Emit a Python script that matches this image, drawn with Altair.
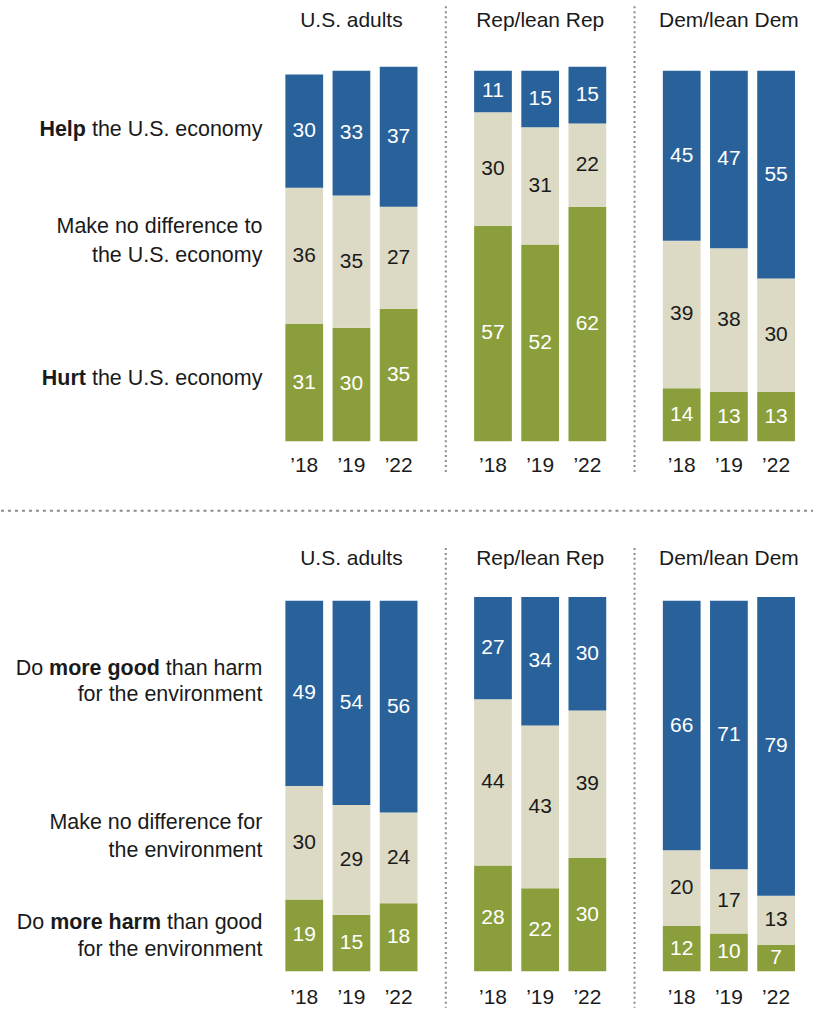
import altair as alt
import pandas as pd

# ---------------- data ----------------
YEARS = ["\u201918", "\u201919", "\u201922"]
GROUPS = ["U.S. adults", "Rep/lean Rep", "Dem/lean Dem"]
GROUP_KEYS = ["US", "REP", "DEM"]

# economy: order US'18,'19,'22, Rep'18,'19,'22, Dem'18,'19,'22
ECON_HELP = [30, 33, 37, 11, 15, 15, 45, 47, 55]
ECON_NONE = [36, 35, 27, 30, 31, 22, 39, 38, 30]
ECON_HURT = [31, 30, 35, 57, 52, 62, 14, 13, 13]

# environment
ENV_GOOD = [49, 54, 56, 27, 34, 30, 66, 71, 79]
ENV_NONE = [30, 29, 24, 44, 43, 39, 20, 17, 13]
ENV_HARM = [19, 15, 18, 28, 22, 30, 12, 10, 7]

TOP_LABEL_LINES = [
    [("Help", True), ("the U.S. economy", False)],
    [("Make no difference to", False)],
    [("the U.S. economy", False)],
    [("Hurt", True), ("the U.S. economy", False)],
]
BOTTOM_LABEL_LINES = [
    [("Do", False), ("more good", True), ("than harm", False)],
    [("for the environment", False)],
    [("Make no difference for", False)],
    [("the environment", False)],
    [("Do", False), ("more harm", True), ("than good", False)],
    [("for the environment", False)],
]

# ---------------- layout / style ----------------
W = 814
K = 3.79                       # px per percentage point
H1, H2 = 512, 497
TOP_BASE, BOT_BASE = 441, 972.5 - H1   # bar baselines (local px)
STEP = 47.3
X0 = 304 - STEP / 2
FONT = "Liberation Sans"
FS = 21
LFS = 21.5
BLUE, BEIGE, GREEN = "#29629b", "#dcdac4", "#8a9f3b"
TXT = "#1a1a1a"
DOT = "#8a8a8a"
LABEL_RIGHT = 262
TOP_LABEL_BASELINES = [135, 232.7, 261, 385]
BOTTOM_LABEL_BASELINES = [675 - H1, 701.7 - H1, 830 - H1, 858 - H1, 930 - H1, 956.7 - H1]

AR = {' ': 278, '.': 278, 'D': 722, 'H': 722, 'M': 833, 'S': 667, 'U': 722,
      'a': 556, 'c': 500, 'd': 556, 'e': 556, 'f': 278, 'g': 556, 'h': 556,
      'i': 222, 'k': 500, 'l': 222, 'm': 833, 'n': 556, 'o': 556, 'p': 556,
      'r': 333, 't': 278, 'u': 556, 'v': 500, 'y': 500}
ARB = {' ': 278, 'H': 722, 'a': 556, 'd': 611, 'e': 556, 'g': 611, 'h': 611,
       'l': 278, 'm': 889, 'o': 611, 'p': 611, 'r': 389, 't': 333, 'u': 611}


def tw(s, bold=False):
    t = ARB if bold else AR
    return sum(t.get(c, 556) for c in s) * LFS / 1000


X_DOMAIN = []
for gi, g in enumerate(GROUP_KEYS):
    for y in YEARS:
        X_DOMAIN.append(g + "|" + y)
    if gi < len(GROUP_KEYS) - 1:
        X_DOMAIN.append("gap%d" % gi)

xscale = alt.Scale(domain=X_DOMAIN, range=[X0, X0 + STEP * len(X_DOMAIN)],
                   paddingInner=0.2, paddingOuter=0.1)


def bar_df(top, mid, bot):
    rows = []
    i = 0
    for g in GROUP_KEYS:
        for y in YEARS:
            key = g + "|" + y
            b, m, t = bot[i], mid[i], top[i]
            for s, y0, y1, v in [("bot", 0, b, b), ("mid", b, b + m, m), ("top", b + m, b + m + t, t)]:
                rows.append(dict(key=key, seg=s, y0=y0, y1=y1, mid=(y0 + y1) / 2, value=v))
            i += 1
    return pd.DataFrame(rows)


def label_df(lines, baselines):
    rows = []
    for pieces, by in zip(lines, baselines):
        xr = LABEL_RIGHT
        for text, bold in reversed(pieces):
            rows.append(dict(text=text, bold=bold, px=xr, py=by))
            xr -= tw(text, bold) + tw(" ", bold)
    return pd.DataFrame(rows)


def section(df, labels, H, base, title_y, year_y, vy0, vy1, hline_y=None):
    yscale = alt.Scale(domain=[(base - H) / K, base / K], nice=False, zero=False)
    x = alt.X("key:N", scale=xscale, axis=None)
    base_chart = alt.Chart(df)
    bars = base_chart.mark_bar().encode(
        x=x,
        y=alt.Y("y0:Q", scale=yscale, axis=None),
        y2="y1:Q",
        color=alt.Color("seg:N", scale=alt.Scale(domain=["top", "mid", "bot"],
                                                 range=[BLUE, BEIGE, GREEN]), legend=None),
    )
    vals_white = base_chart.transform_filter("datum.seg != 'mid'").mark_text(
        font=FONT, fontSize=FS, color="white", baseline="middle"
    ).encode(x=x, y=alt.Y("mid:Q", scale=yscale, axis=None), text="value:Q")
    vals_dark = base_chart.transform_filter("datum.seg == 'mid'").mark_text(
        font=FONT, fontSize=FS, color=TXT, baseline="middle"
    ).encode(x=x, y=alt.Y("mid:Q", scale=yscale, axis=None), text="value:Q")

    yr_df = pd.DataFrame([dict(key=g + "|" + y, year=y) for g in GROUP_KEYS for y in YEARS])
    years = alt.Chart(yr_df).mark_text(font=FONT, fontSize=FS, color=TXT, baseline="alphabetic").encode(
        x=x, y=alt.value(year_y), text="year:N")

    tt_df = pd.DataFrame([dict(key=g + "|" + YEARS[1], title=t) for g, t in zip(GROUP_KEYS, GROUPS)])
    titles = alt.Chart(tt_df).mark_text(font=FONT, fontSize=FS, color=TXT, baseline="alphabetic").encode(
        x=x, y=alt.value(title_y), text="title:N")

    gap_df = pd.DataFrame([dict(key=k) for k in X_DOMAIN if k.startswith("gap")])
    vlines = alt.Chart(gap_df).mark_rule(color=DOT, strokeWidth=2, strokeDash=[2, 3]).encode(
        x=x, y=alt.value(vy0), y2=alt.value(vy1))

    lab_norm = alt.Chart(labels).transform_filter("!datum.bold").mark_text(
        font=FONT, fontSize=LFS, color=TXT, align="right", baseline="alphabetic"
    ).encode(x=alt.X("px:Q", scale=None), y=alt.Y("py:Q", scale=None), text="text:N")
    lab_bold = alt.Chart(labels).transform_filter("datum.bold").mark_text(
        font=FONT, fontSize=LFS, color=TXT, align="right", baseline="alphabetic", fontWeight="bold"
    ).encode(x=alt.X("px:Q", scale=None), y=alt.Y("py:Q", scale=None), text="text:N")

    layers = [bars, vals_white, vals_dark, years, titles, vlines, lab_norm, lab_bold]
    if hline_y is not None:
        hline = alt.Chart(alt.Data(values=[{}])).mark_rule(
            color=DOT, strokeWidth=2, strokeDash=[3, 4]
        ).encode(x=alt.value(0), x2=alt.value(W), y=alt.value(hline_y))
        layers.append(hline)
    return alt.layer(*layers).properties(width=W, height=H)


top = section(bar_df(ECON_HELP, ECON_NONE, ECON_HURT),
              label_df(TOP_LABEL_LINES, TOP_LABEL_BASELINES),
              H1, TOP_BASE, 26, 471.7, 5, 474, hline_y=510.7)
bottom = section(bar_df(ENV_GOOD, ENV_NONE, ENV_HARM),
                 label_df(BOTTOM_LABEL_LINES, BOTTOM_LABEL_BASELINES),
                 H2, BOT_BASE, 565 - H1, 1005.7 - H1, 548 - H1, H2)

chart = alt.vconcat(top, bottom, spacing=0, bounds="flush").properties(
    padding=0,
).configure(background="white").configure_view(stroke=None, strokeWidth=0)

chart.save("out.html", embed_options={"renderer": "svg", "actions": False})
